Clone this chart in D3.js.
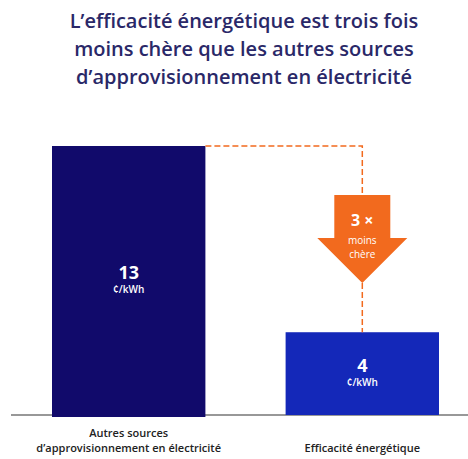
<!DOCTYPE html>
<html><head><meta charset="utf-8">
<script src="https://cdn.jsdelivr.net/npm/d3@7/dist/d3.min.js"></script>
<style>html,body{margin:0;padding:0;background:#fff;}svg{display:block;}</style>
</head><body>
<script>
const titleLines = ["L’efficacité énergétique est trois fois","moins chère que les autres sources","d’approvisionnement en électricité"];
const categories = ["Autres sources\nd’approvisionnement en électricité","Efficacité énergétique"];
const values = [13, 4];
const valueLabels = ["13","4"];
const unit = "¢/kWh";
const barColors = ["#110a6b","#1428b9"];
const ratioLabel = ["3 ×","moins","chère"];

const W=468,H=459;
const svg=d3.select("body").append("svg").attr("width",W).attr("height",H);
const font="'Open Sans', sans-serif";

svg.append("g").selectAll("text").data(titleLines).join("text")
  .attr("x",244).attr("y",(d,i)=>28+i*28)
  .attr("text-anchor","middle").attr("font-family",font).attr("font-weight",600)
  .attr("font-size",20).attr("fill","#2a2868").text(d=>d);

const xb=d3.scaleBand().domain(categories).range([52,439]).paddingInner(80/233).paddingOuter(0);
const y=d3.scaleLinear().domain([0,13]).range([415,146]);

// baseline
svg.append("line").attr("x1",11).attr("x2",W).attr("y1",y(0)).attr("y2",y(0))
  .attr("stroke","#333").attr("stroke-width",1.2);

svg.append("g").selectAll("rect").data(values).join("rect")
  .attr("x",(d,i)=>xb(categories[i])).attr("width",xb.bandwidth())
  .attr("y",d=>y(d)).attr("height",(d,i)=>y(0)-y(d)+(i===0?2:0))
  .attr("fill",(d,i)=>barColors[i]);

// value labels
values.forEach((v,i)=>{
  const cx=xb(categories[i])+xb.bandwidth()/2;
  const cy=(y(v)+y(0))/2;
  svg.append("text").attr("x",cx).attr("y",cy-2).attr("text-anchor","middle")
    .attr("font-family",font).attr("font-weight",700).attr("font-size",18).attr("fill","#fff").text(valueLabels[i]);
  svg.append("text").attr("x",cx).attr("y",cy+12).attr("text-anchor","middle")
    .attr("font-family",font).attr("font-weight",600).attr("font-size",10).attr("fill","#fff").text(unit);
});

// category labels
categories.forEach((c,i)=>{
  const cx=xb(c)+xb.bandwidth()/2;
  const lines=c.split("\n");
  lines.forEach((l,j)=>{
    svg.append("text").attr("x",cx).attr("y",452-(lines.length-1-j)*15).attr("text-anchor","middle")
      .attr("font-family",font).attr("font-weight",600).attr("font-size",11).attr("fill","#222").text(l);
  });
});

// dashed connector + arrow
const orange="#f26a1e";
const x1=xb(categories[0])+xb.bandwidth();
const cx2=xb(categories[1])+xb.bandwidth()/2;
const yTop=y(values[0]), yLow=y(values[1]);
const arrowTop=195, arrowShoulder=238, arrowTip=283, bodyHalf=28, headHalf=45;
svg.append("path").attr("d",`M${x1},${yTop}H${cx2}V${arrowTop}`)
  .attr("fill","none").attr("stroke",orange).attr("stroke-width",1.5).attr("stroke-dasharray","6,3");
svg.append("path").attr("d",`M${cx2},${arrowTip}V${yLow}`)
  .attr("fill","none").attr("stroke",orange).attr("stroke-width",1.5).attr("stroke-dasharray","6,3");
svg.append("path").attr("d",`M${cx2-bodyHalf},${arrowTop}H${cx2+bodyHalf}V${arrowShoulder}H${cx2+headHalf}L${cx2},${arrowTip}L${cx2-headHalf},${arrowShoulder}H${cx2-bodyHalf}Z`)
  .attr("fill",orange);
svg.append("text").attr("x",cx2).attr("y",226).attr("text-anchor","middle")
  .attr("font-family",font).attr("font-weight",700).attr("font-size",16).attr("fill","#fff").text(ratioLabel[0]);
svg.append("text").attr("x",cx2).attr("y",244).attr("text-anchor","middle")
  .attr("font-family",font).attr("font-weight",500).attr("font-size",10).attr("fill","#fff").text(ratioLabel[1]);
svg.append("text").attr("x",cx2).attr("y",258).attr("text-anchor","middle")
  .attr("font-family",font).attr("font-weight",500).attr("font-size",10).attr("fill","#fff").text(ratioLabel[2]);
</script>
</body></html>
